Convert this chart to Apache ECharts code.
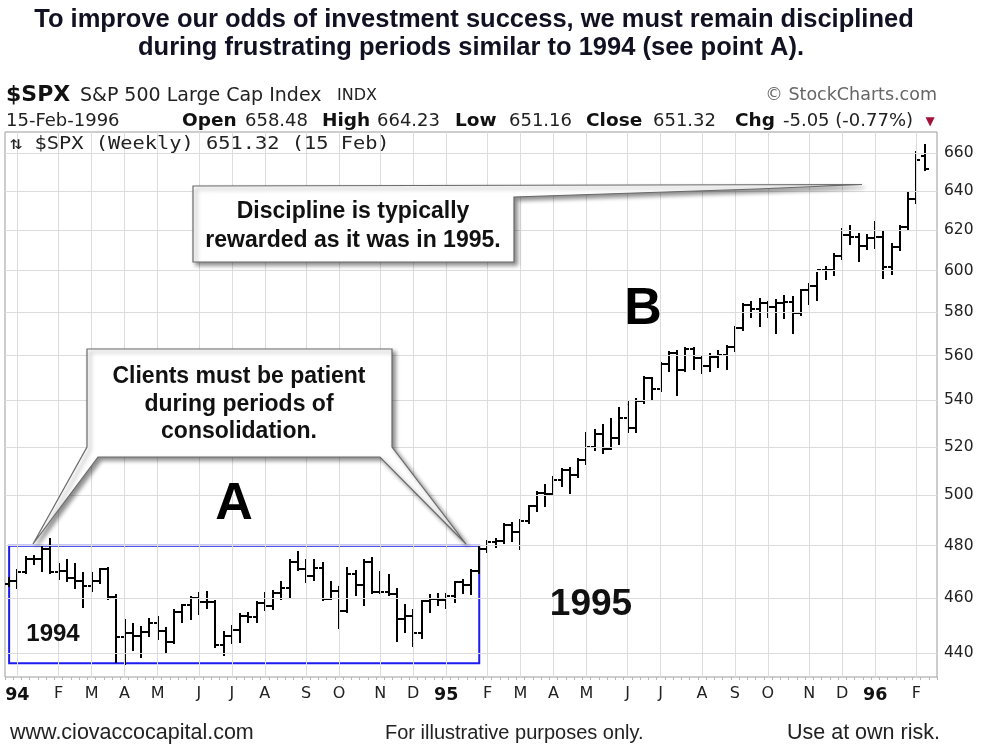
<!DOCTYPE html>
<html><head><meta charset="utf-8">
<script src="https://cdn.jsdelivr.net/npm/echarts@6/dist/echarts.min.js"></script>
<style>html,body{margin:0;padding:0;background:#fff}#c{width:983px;height:744px}</style>
</head><body><div id="c"></div>
<script>
// Weekly bars keyed by the Monday of each week (last entry is an empty trailing slot)
const weeks = [
'1993-12-27',
'1994-01-03','1994-01-10','1994-01-17','1994-01-24','1994-01-31','1994-02-07','1994-02-14','1994-02-21','1994-02-28',
'1994-03-07','1994-03-14','1994-03-21','1994-03-28','1994-04-04','1994-04-11','1994-04-18','1994-04-25','1994-05-02',
'1994-05-09','1994-05-16','1994-05-23','1994-05-30','1994-06-06','1994-06-13','1994-06-20','1994-06-27','1994-07-04',
'1994-07-11','1994-07-18','1994-07-25','1994-08-01','1994-08-08','1994-08-15','1994-08-22','1994-08-29','1994-09-05',
'1994-09-12','1994-09-19','1994-09-26','1994-10-03','1994-10-10','1994-10-17','1994-10-24','1994-10-31','1994-11-07',
'1994-11-14','1994-11-21','1994-11-28','1994-12-05','1994-12-12','1994-12-19','1994-12-26',
'1995-01-02','1995-01-09','1995-01-16','1995-01-23','1995-01-30','1995-02-06','1995-02-13','1995-02-20','1995-02-27',
'1995-03-06','1995-03-13','1995-03-20','1995-03-27','1995-04-03','1995-04-10','1995-04-17','1995-04-24','1995-05-01',
'1995-05-08','1995-05-15','1995-05-22','1995-05-29','1995-06-05','1995-06-12','1995-06-19','1995-06-26','1995-07-03',
'1995-07-10','1995-07-17','1995-07-24','1995-07-31','1995-08-07','1995-08-14','1995-08-21','1995-08-28','1995-09-04',
'1995-09-11','1995-09-18','1995-09-25','1995-10-02','1995-10-09','1995-10-16','1995-10-23','1995-10-30','1995-11-06',
'1995-11-13','1995-11-20','1995-11-27','1995-12-04','1995-12-11','1995-12-18','1995-12-25',
'1996-01-01','1996-01-08','1996-01-15','1996-01-22','1996-01-29','1996-02-05','1996-02-12',
'1996-02-19'
];
const opens = [465.4,
466.4,469.9,474.9,474.7,478.7,469.8,470.2,467.5,466.3,464.7,466.4,471.1,460.6,445.8,447.1,446.2,447.6,450.9,
447.8,444.1,454.9,457.3,460.1,458.7,458.5,442.8,446.2,448.4,453.3,453.1,458.3,457.1,461.9,463.7,473.8,471.0,
468.2,471.2,459.7,462.7,455.1,469.1,464.9,473.8,462.3,462.4,461.5,452.3,453.3,447.0,458.8,459.8,
459.3,460.7,466.0,464.8,470.4,478.7,481.5,482.0,488.1,485.4,489.6,495.5,501.0,500.7,506.4,510.5,508.5,514.7,
520.1,525.6,519.2,523.7,532.5,527.9,539.8,549.7,544.8,556.4,561.0,553.5,562.9,558.9,555.1,559.2,560.1,563.8,
572.7,583.4,581.7,584.4,582.6,584.5,585.0,579.7,590.6,592.7,600.1,600.0,607.0,617.5,616.3,612.0,
615.9,616.7,601.8,611.4,621.6,635.8,658.48];
const highs = [467.6,
470.5,475.7,475.8,480.0,482.6,472.9,474.4,472.8,469.6,469.6,471.1,471.3,461.0,451.9,450.3,449.2,452.3,452.9,
449.0,455.5,457.6,460.4,461.8,462.4,458.9,447.5,449.6,454.1,454.6,458.5,461.9,462.5,466.0,474.3,477.5,474.5,
474.5,473.2,465.9,464.0,471.2,470.2,474.5,475.4,469.8,468.6,463.4,457.4,455.6,459.0,461.0,461.6,
461.6,466.2,467.0,470.6,479.5,482.0,482.5,488.6,489.0,490.0,495.8,501.2,504.0,507.4,510.9,511.0,515.1,525.7,
527.1,529.3,532.0,536.5,539.5,540.5,550.5,550.0,556.6,561.8,562.0,563.5,563.5,560.0,560.5,562.0,564.5,573.0,
584.0,585.0,586.5,585.0,586.0,587.5,587.0,590.8,593.5,598.8,601.5,608.3,620.5,622.0,618.0,617.5,
624.0,619.0,613.0,622.0,639.5,660.7,664.23];
const lows = [464.4,
463.8,469.5,472.8,470.2,469.3,467.3,466.5,463.7,456.8,462.5,465.8,459.8,436.8,435.9,441.2,438.5,446.0,445.0,
440.3,443.4,451.0,452.4,454.0,456.2,442.2,439.3,443.5,444.1,451.0,451.2,455.6,456.0,459.6,460.2,470.5,466.2,
466.8,459.3,459.5,449.0,455.0,461.0,457.6,462.0,461.8,461.0,444.2,447.6,442.6,445.5,454.8,457.4,
456.5,458.5,462.0,461.5,469.5,477.5,479.5,481.0,482.0,478.6,488.8,493.6,495.8,500.4,503.9,501.1,507.5,512.9,
518.5,517.3,519.0,521.4,526.4,526.5,539.0,540.5,544.0,553.0,542.5,553.0,554.0,552.0,553.0,555.0,554.0,562.0,
571.5,578.0,573.6,578.0,570.5,577.5,570.5,578.5,584.0,585.6,596.0,598.0,605.5,613.0,604.5,610.5,
611.2,596.5,598.5,610.0,620.5,633.5,651.16];
const closes = [466.4,
469.9,474.9,474.7,478.7,469.8,470.2,467.5,466.3,464.7,466.4,471.1,460.6,445.8,447.1,446.2,447.6,450.9,447.8,
444.1,454.9,457.3,460.1,458.7,458.5,442.8,446.2,448.4,453.3,453.1,458.3,457.1,461.9,463.7,473.8,471.0,468.2,
471.2,459.7,462.7,455.1,469.1,464.9,473.8,462.3,462.4,461.5,452.3,453.3,447.0,458.8,459.8,459.3,
460.7,466.0,464.8,470.4,478.7,481.5,482.0,488.1,485.4,489.6,495.5,501.0,500.7,506.4,510.5,508.5,514.7,520.1,
525.6,519.2,523.7,532.5,527.9,539.8,549.7,544.8,556.4,561.0,553.5,562.9,558.9,555.1,559.2,560.1,563.8,572.7,
583.4,581.7,584.4,582.6,584.5,585.0,579.7,590.6,592.7,600.1,600.0,607.0,617.5,616.3,612.0,615.9,
616.7,601.8,611.4,621.6,635.8,656.4,651.32];
const yTicks = [440,460,480,500,520,540,560,580,600,620,640,660];
const monthLetters = ['J','F','M','A','M','J','J','A','S','O','N','D'];
const boxTop = 480, boxBottom = 436.3, boxFirstWeek = 0, boxLastWeek = 57;

function monthLabel(i){
  if(i <= 0 || i >= weeks.length) return '';
  const m = +weeks[i].slice(5,7), pm = +weeks[i-1].slice(5,7);
  if(m === pm) return '';
  return m === 1 ? '{y|' + weeks[i].slice(2,4) + '}' : monthLetters[m-1];
}
const monthStarts = weeks.map((w,i)=>i).filter(i=>monthLabel(i) !== '');

const ohlc = opens.map((o,i)=>[i, o, highs[i], lows[i], closes[i]]);

function renderOHLC(params, api){
  const i = api.value(0);
  const o = api.coord([i, api.value(1)]);
  const h = api.coord([i, api.value(2)]);
  const l = api.coord([i, api.value(3)]);
  const c = api.coord([i, api.value(4)]);
  const half = Math.round(api.size([1,0])[0]*0.48);
  const x = Math.round(h[0]);
  const yo = Math.round(o[1]), yc = Math.round(c[1]);
  return {type:'group', children:[
    {type:'line', shape:{x1:x,y1:Math.round(h[1])-1,x2:x,y2:Math.round(l[1])+1}, style:{stroke:'#000',lineWidth:2}},
    {type:'line', shape:{x1:x-half,y1:yo,x2:x,y2:yo}, style:{stroke:'#000',lineWidth:2}},
    {type:'line', shape:{x1:x,y1:yc,x2:x+half,y2:yc}, style:{stroke:'#000',lineWidth:2}}
  ]};
}

const SC = '"DejaVu Sans"';
const AN = '"Liberation Sans", Arial, sans-serif';
function txt(x,y,text,font,fill,align,extra){
  return Object.assign({type:'text', x:x, y:y, z:120, silent:true,
    style:{text:text, font:font, fill:fill||'#111', align:align||'left', verticalAlign:'middle'}}, extra||{});
}
const shadow = {shadowBlur:4, shadowOffsetX:3, shadowOffsetY:3, shadowColor:'rgba(0,0,0,0.45)'};

const chart = echarts.init(document.getElementById('c'), null, {renderer:'canvas'});
chart.setOption({
  animation:false,
  backgroundColor:'#fff',
  grid:{left:5, right:46, top:132, bottom:67, show:true, borderColor:'#9a9a9a', borderWidth:1, backgroundColor:'#fff'},
  xAxis:{type:'category', data:weeks, boundaryGap:true,
    axisLine:{show:false},
    axisTick:{show:true, interval:0, length:3, lineStyle:{color:'#b5b5b5'}},
    axisLabel:{interval:0, formatter:(v,i)=>monthLabel(i), margin:9, color:'#222', fontSize:16, fontFamily:'DejaVu Sans',
      rich:{y:{fontWeight:'bold', fontSize:17.5, color:'#111', fontFamily:'DejaVu Sans'}}},
    splitLine:{show:false}},
  yAxis:{type:'log', logBase:10, min:431.5, max:671.3, position:'right',
    axisLine:{show:false}, axisTick:{show:false}, axisLabel:{show:false}, splitLine:{show:false}, minorTick:{show:false}},
  series:[
    {type:'line', z:1, data:[], silent:true, showSymbol:false,
      markLine:{silent:true, symbol:['none','none'], animation:false,
        lineStyle:{color:'#dcdcdc', width:1, type:'solid'},
        label:{show:true, position:'end', distance:7, color:'#222', fontSize:15.5, fontFamily:'DejaVu Sans'},
        emphasis:{disabled:true},
        data: yTicks.map(v=>({yAxis:v, label:{formatter:String(v)}}))
          .concat(monthStarts.map(i=>({xAxis:weeks[i], label:{show:false}})))
      }},
    {type:'custom', z:3, name:'$SPX', data:ohlc, encode:{x:0, y:[1,2,3,4]}, renderItem:renderOHLC, silent:true},
    {type:'line', z:4, data:[], silent:true, showSymbol:false,
      markArea:{silent:true, itemStyle:{color:'rgba(0,0,0,0)', borderColor:'#1c1cf2', borderWidth:2},
        label:{show:false},
        data:[[{xAxis:weeks[boxFirstWeek], yAxis:boxTop},{xAxis:weeks[boxLastWeek], yAxis:boxBottom}]]}}
  ],
  graphic:[
    txt(474,20,'To improve our odds of investment success, we must remain disciplined','bold 25.5px '+AN,'#111122','center'),
    txt(471,48,'during frustrating periods similar to 1994 (see point A).','bold 25.5px '+AN,'#111122','center'),
    txt(6,95,'$SPX','bold 22px '+SC,'#111'),
    txt(80,96,'S&P 500 Large Cap Index','19px '+SC,'#222'),
    txt(337,96,'INDX','16px '+SC,'#222'),
    txt(937,95,'© StockCharts.com','17.5px '+SC,'#666','right'),
    txt(6,121,'15-Feb-1996','18px '+SC,'#222'),
    txt(182,121,'Open','bold 18.5px '+SC,'#111'),
    txt(245,121,'658.48','18px '+SC,'#222'),
    txt(322,121,'High','bold 18.5px '+SC,'#111'),
    txt(377,121,'664.23','18px '+SC,'#222'),
    txt(455,121,'Low','bold 18.5px '+SC,'#111'),
    txt(509,121,'651.16','18px '+SC,'#222'),
    txt(586,121,'Close','bold 18.5px '+SC,'#111'),
    txt(653,121,'651.32','18px '+SC,'#222'),
    txt(735,121,'Chg','bold 18.5px '+SC,'#111'),
    txt(783,121,'-5.05 (-0.77%)','18px '+SC,'#222'),
    txt(930,122,'▼','12px '+SC,'#a3123a','center'),
    txt(10,144,'⇅ $SPX (Weekly) 651.32 (15 Feb)','18px "DejaVu Sans Mono"','#222','left',{scaleX:1.13}),
    // callout 1
    {type:'polygon', z:110, silent:true, shape:{points:[[193,186],[862,184.5],[757,189],[514,197],[514,262],[193,262]]},
      style:Object.assign({fill:'#fff', stroke:'#6a6a6a', lineWidth:1.2}, shadow)},
    txt(353,212,'Discipline is typically','bold 23px '+AN,'#111','center'),
    txt(353,241,'rewarded as it was in 1995.','bold 23px '+AN,'#111','center'),
    // callout 2
    {type:'polygon', z:110, silent:true, shape:{points:[[87,349],[392,349],[392,447],[466,544],[380,457],[98,457],[33,544],[87,447]]},
      style:Object.assign({fill:'#fff', stroke:'#6a6a6a', lineWidth:1.2}, shadow)},
    txt(239,377,'Clients must be patient','bold 23px '+AN,'#111','center'),
    txt(239,405,'during periods of','bold 23px '+AN,'#111','center'),
    txt(239,432,'consolidation.','bold 23px '+AN,'#111','center'),
    txt(234,505,'A','bold 52px '+AN,'#000','center'),
    txt(643,310,'B','bold 52px '+AN,'#000','center'),
    txt(53,634,'1994','bold 24px '+AN,'#111','center'),
    txt(591,605,'1995','bold 37px '+AN,'#111','center'),
    txt(10,733,'www.ciovaccocapital.com','21.5px '+AN,'#222'),
    txt(385,733,'For illustrative purposes only.','20px '+AN,'#222'),
    txt(787,733,'Use at own risk.','21.5px '+AN,'#222')
  ]
});
</script></body></html>
